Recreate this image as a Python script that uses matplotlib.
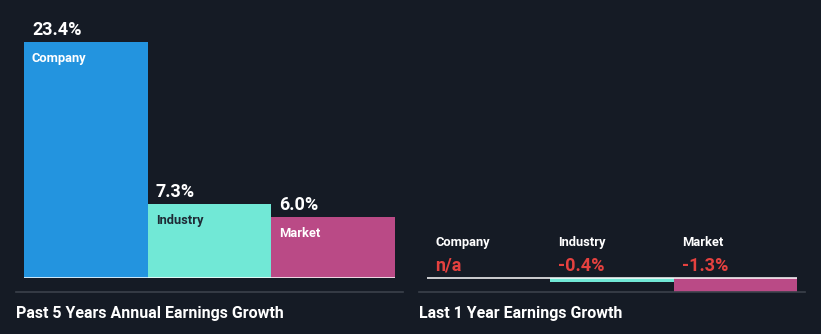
import numpy as np
import matplotlib.pyplot as plt
from matplotlib.lines import Line2D

# --- Data ---
categories = ["Company", "Industry", "Market"]
past5_growth = [23.4, 7.3, 6.0]          # % per year
last1_growth = [np.nan, -0.4, -1.3]      # % (company n/a)
panel_titles = ["Past 5 Years Annual Earnings Growth", "Last 1 Year Earnings Growth"]

# --- Styl ---
BG = "#151b25"
bar_colors = ["#2394df", "#71e8d6", "#ba4a86"]
label_colors = ["white", "#1e2a35", "white"]
NEG_RED = "#e5413f"
SEP = "#3b414b"
plt.rcParams['font.family'] = ['Roboto', 'DejaVu Sans']

W, H = 821, 334
PT = 72 / 100  # px -> points

fig = plt.figure(figsize=(W / 100, H / 100), dpi=100, facecolor=BG)


def px_axes(x0, y_top, x1, y_bottom):
    ax = fig.add_axes([x0 / W, 1 - y_bottom / H, (x1 - x0) / W, (y_bottom - y_top) / H])
    ax.set_facecolor(BG)
    ax.axis("off")
    return ax


x = np.arange(len(categories))

# --- Levy panel: 5 let ---
ax1 = px_axes(24, 20, 395, 278)
scale1 = (278 - 42) / max(past5_growth)
ax1.set_xlim(-0.5, 2.5)
ax1.set_ylim(0, (278 - 20) / scale1)
ax1.bar(x, past5_growth, width=1.0, color=bar_colors, zorder=2)
ax1.axhline(0, color="white", lw=1.1, zorder=3)
for i, v in enumerate(past5_growth):
    ax1.annotate(f"{v:.1f}%", xy=(i - 0.5, v), xytext=(8 * PT, 7 * PT),
                 textcoords="offset points", va="baseline", ha="left",
                 color="white", fontsize=13, fontweight="bold")
    ax1.annotate(categories[i], xy=(i - 0.5, v), xytext=(8 * PT, -20 * PT),
                 textcoords="offset points", va="baseline", ha="left",
                 color=label_colors[i], fontsize=9.3, fontweight="bold")

# --- Pravy panel: 1 rok ---
ax2 = px_axes(427, 230, 797, 292)
scale2 = (292 - 278) / abs(min(last1_growth[1:]))
ax2.set_xlim(-0.5, 2.5)
ax2.set_ylim(-(292 - 278) / scale2, (278 - 230) / scale2)
vals2 = np.nan_to_num(last1_growth)
ax2.bar(x, vals2, width=1.0, color=bar_colors, zorder=2)
ax2.axhline(0, color="white", lw=1.1, zorder=3)
for i, v in enumerate(last1_growth):
    txt = "n/a" if np.isnan(v) else f"{v:.1f}%"
    ax2.annotate(categories[i], xy=(i - 0.5, 0), xytext=(8 * PT, 32 * PT),
                 textcoords="offset points", va="baseline", ha="left",
                 color="white", fontsize=9.3, fontweight="bold")
    ax2.annotate(txt, xy=(i - 0.5, 0), xytext=(8 * PT, 7 * PT),
                 textcoords="offset points", va="baseline", ha="left",
                 color=NEG_RED, fontsize=13, fontweight="bold")

# --- Oddelovace a nadpisy ---
for (x0, x1) in [(16, 403), (419, 805)]:
    fig.add_artist(Line2D([x0 / W, x1 / W], [1 - 292 / H] * 2, color=SEP, lw=1.2))
for xt, title in zip([16, 419], panel_titles):
    fig.text(xt / W, 1 - 318 / H, title, color="white", fontsize=11.5,
             fontweight="bold", va="baseline", ha="left")

fig.savefig("out.png", dpi=100, facecolor=BG)
